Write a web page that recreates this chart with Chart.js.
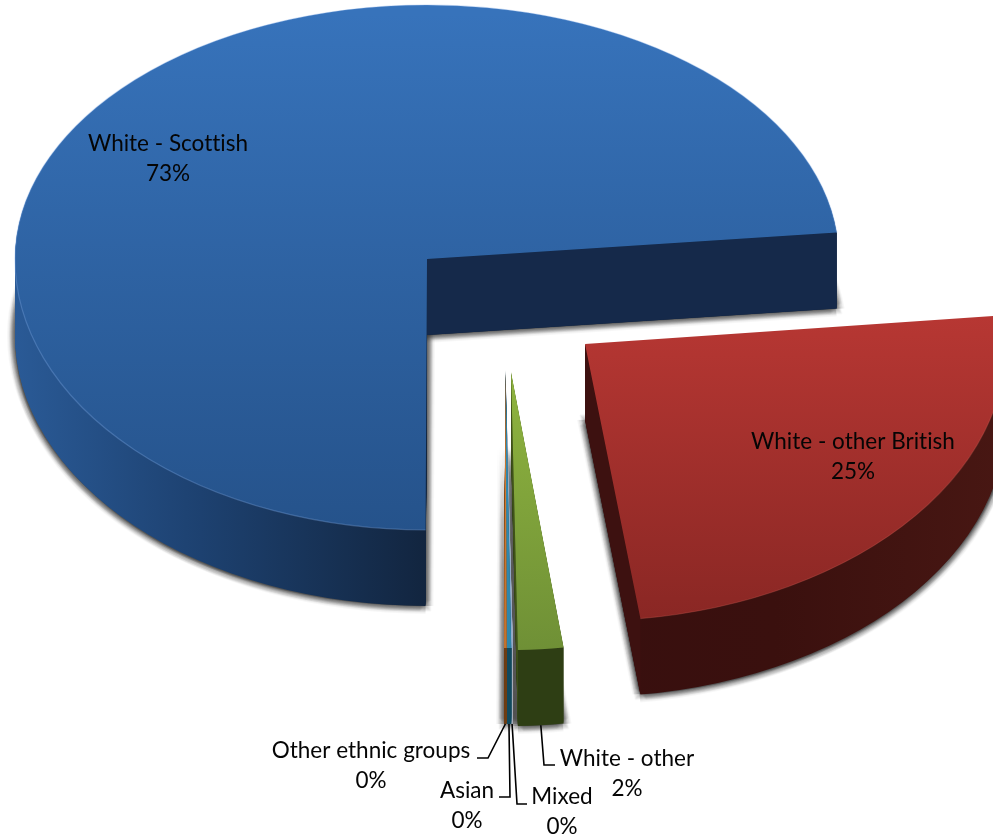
<!DOCTYPE html>
<html>
<head>
<meta charset="utf-8">
<style>html,body{margin:0;padding:0;background:#fff}canvas{display:block}</style>
<script src="https://cdn.jsdelivr.net/npm/chart.js@4"></script>
</head>
<body>
<canvas id="c" width="993" height="836"></canvas>
<script>
// ---- data (clockwise from the bottom of the pie)
const categories = ['White - Scottish','White - other British','White - other','Mixed','Asian','Other ethnic groups'];
const shareValues = [73.25,24.55,1.825,0.06,0.17,0.1];

// ---- style
const faceTop    = ['#3773bb','#b73733','#8fb43f','#8fa9c9','#2f8ab0','#dc7d2e'];
const faceBottom = ['#25528a','#8a2724','#6f9036','#8fa9c9','#2f86aa','#c4722c'];
const wallLeft   = ['#2a5a96','#380f0e','#2e3e14','#a8adb8','#10495e','#6e3c12'];
const wallMid    = ['#1d4170','#3a100e','#2e3e14','#a8adb8','#10495e','#6e3c12'];
const wallRight  = ['#12253f','#481713','#2e3e14','#a8adb8','#10495e','#6e3c12'];
const cutColor   = ['#15294a','#3d1110','#3f5219','#a8adb8','#10495e','#6e3c12'];
const rimColor   = ['rgba(125,170,230,.35)','rgba(205,95,85,.3)',null,null,null,null];
const apexX  = [427,585,511,505.5,505.5,505.5];
const apexY  = [259,344,372,370,370,370];
const radX   = [412,421,400,428,428,428];
const radUp  = [254,276,278,278,278,278];
const radDown= [271,277,278,278,278,278];
const depth = 76;
const fontName = 'Lato, "Open Sans", sans-serif';
const fontSize = 22.5;
const labelX = [168,853,627,562,467,371];
const labelY = [144,442,759,797,791,751];
const lineGap = 30;
const leaderElbow = [null,null,[544,765],[517,804],[510,797],[488,758]];
const leaderEnd   = [null,null,[555,765],[527,804],[499,797],[477,758]];
const shadowSpread = [1.5,3,4.5,6,7.5];
const shadowAlpha = 0.13;

function pt(i,a){
  const s=Math.sin(a);
  return [apexX[i]+radX[i]*Math.cos(a), apexY[i]+(s<0?radUp[i]:radDown[i])*s];
}
function samples(arc,i){
  const out=[];
  for(let k=0;k<=60;k++) out.push(pt(i,arc.startAngle+(arc.endAngle-arc.startAngle)*k/60));
  out.push([apexX[i],apexY[i]]);
  return out;
}
function paint(ctx,arc,i,yOff,fill,rim){
  const R=arc.outerRadius;
  const seam=apexY[i]+yOff;
  const pieces=[[radUp[i],-2000,seam+2000],[radDown[i],seam,3000]];
  const el=Object.create(arc);
  const o=Object.create(arc.options);
  Object.defineProperty(o,'backgroundColor',{value:fill});
  Object.defineProperty(o,'borderWidth',{value:0});
  el.options=o;
  for(const [ry,top,h] of pieces){
    ctx.save();
    ctx.beginPath();ctx.rect(-2000,top,6000,h);ctx.clip();
    ctx.translate(apexX[i],seam);
    ctx.scale(radX[i]/R,ry/R);
    ctx.translate(-arc.x,-arc.y);
    Chart.ArcElement.prototype.draw.call(el,ctx);
    if(rim){
      ctx.beginPath();
      ctx.arc(arc.x,arc.y,R,arc.startAngle,arc.endAngle);
      ctx.setTransform(1,0,0,1,0,0);
      ctx.strokeStyle=rim;ctx.lineWidth=1.2;ctx.stroke();
    }
    ctx.restore();
  }
}
const pie3d={
  id:'pie3d',
  beforeDatasetDraw(chart){
    const ctx=chart.ctx, arcs=chart.getDatasetMeta(0).data;
    // soft shadow of the under side: rings of faint copies nudged around it
    const off=document.createElement('canvas');
    off.width=chart.width;off.height=chart.height;
    const octx=off.getContext('2d');
    arcs.forEach((arc,i)=>paint(octx,arc,i,depth,'#000'));
    ctx.save();
    ctx.globalAlpha=shadowAlpha;
    shadowSpread.forEach(r=>{
      for(let k=0;k<8;k++){
        const a=k*Math.PI/4;
        ctx.globalAlpha=shadowAlpha/2.2;
        ctx.drawImage(off,r*Math.cos(a),r*Math.sin(a));
      }
    });
    ctx.restore();
    // walls
    arcs.forEach((arc,i)=>{
      const vis=samples(arc,i).filter(p=>p[1]>=apexY[i]);
      const x0=Math.min(...vis.map(p=>p[0])),x1=Math.max(...vis.map(p=>p[0]));
      const k=arc.outerRadius/radX[i];
      const g=ctx.createLinearGradient(arc.x+(x0-apexX[i])*k,0,arc.x+(x1-apexX[i])*k,0);
      g.addColorStop(0,wallLeft[i]);g.addColorStop(.45,wallMid[i]);g.addColorStop(1,wallRight[i]);
      for(let d=depth;d>=1;d--) paint(ctx,arc,i,d,g);
      const a=pt(i,arc.endAngle);
      ctx.beginPath();
      ctx.moveTo(apexX[i],apexY[i]);ctx.lineTo(a[0],a[1]);ctx.lineTo(a[0],a[1]+depth);ctx.lineTo(apexX[i],apexY[i]+depth);ctx.closePath();
      ctx.fillStyle=cutColor[i];ctx.fill();
    });
    // top faces
    arcs.forEach((arc,i)=>{
      const ys=samples(arc,i).map(p=>p[1]);
      const y0=Math.min(...ys),y1=Math.max(...ys);
      const R=arc.outerRadius;
      const ry=(radUp[i]+radDown[i])/2;
      const g=ctx.createLinearGradient(0,arc.y+(y0-apexY[i])*R/ry,0,arc.y+(y1-apexY[i])*R/ry);
      g.addColorStop(0,faceTop[i]);g.addColorStop(1,faceBottom[i]);
      paint(ctx,arc,i,0,g,rimColor[i]);
    });
    return false;
  },
  afterDatasetsDraw(chart){
    const ctx=chart.ctx, arcs=chart.getDatasetMeta(0).data;
    const total=shareValues.reduce((a,b)=>a+b,0);
    ctx.save();
    arcs.forEach((arc,i)=>{
      if(leaderElbow[i]){
        const mid=(arc.startAngle+arc.endAngle)/2, p=pt(i,mid);
        ctx.beginPath();
        ctx.moveTo(p[0],p[1]+depth);
        ctx.lineTo(leaderElbow[i][0],leaderElbow[i][1]);
        ctx.lineTo(leaderEnd[i][0],leaderEnd[i][1]);
        ctx.strokeStyle='#000';ctx.lineWidth=1.6;ctx.stroke();
      }
    });
    ctx.fillStyle='#050505';ctx.textAlign='center';ctx.textBaseline='middle';
    ctx.font=fontSize+'px '+fontName;
    ctx.letterSpacing='0.01px';
    categories.forEach((c,i)=>{
      ctx.fillText(c,labelX[i],labelY[i]);
      ctx.fillText(Math.round(shareValues[i]/total*100)+'%',labelX[i],labelY[i]+lineGap);
    });
    ctx.restore();
  }
};
new Chart(document.getElementById('c'),{
  type:'pie',
  data:{labels:categories,datasets:[{data:shareValues,backgroundColor:faceTop,borderWidth:0}]},
  options:{
    responsive:false,animation:false,devicePixelRatio:1,
    rotation:180.2,
    plugins:{legend:{display:false},tooltip:{enabled:false}}
  },
  plugins:[pie3d]
});
</script>
</body>
</html>
